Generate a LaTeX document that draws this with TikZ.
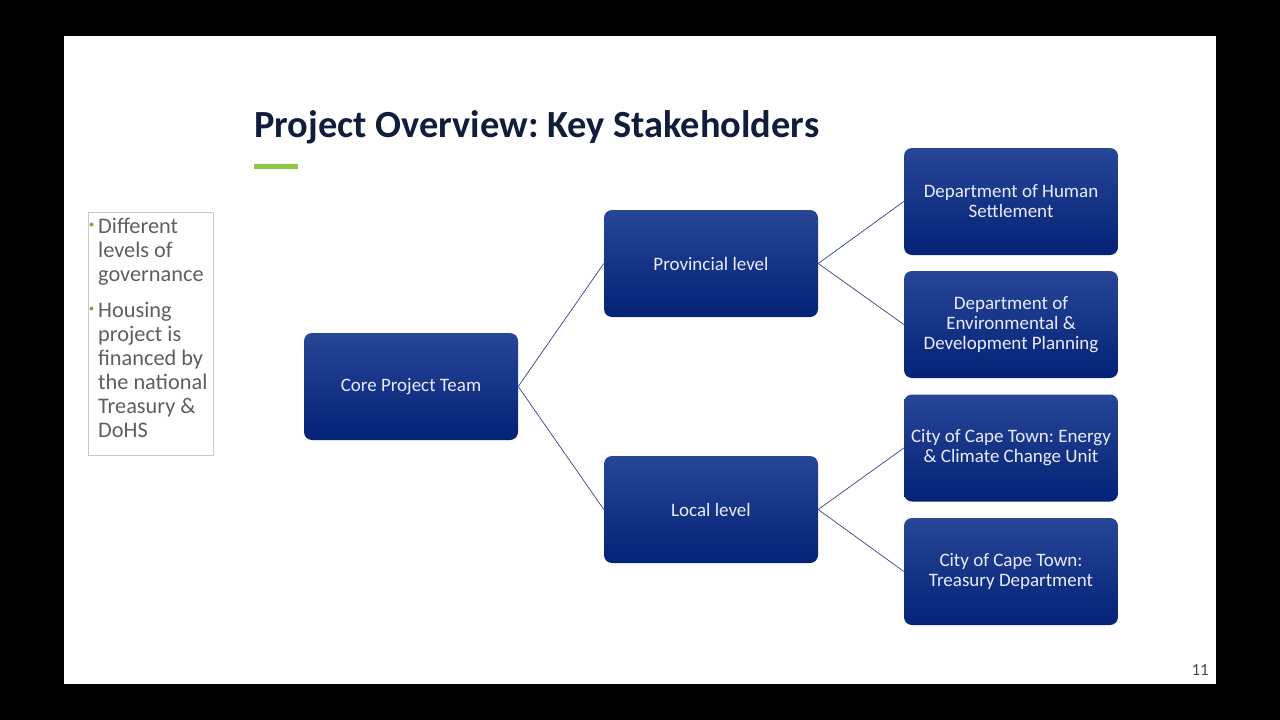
\documentclass[tikz,border=0pt]{standalone}
\usepackage{fontspec}
\setmainfont{Carlito}
\frenchspacing
\definecolor{navytop}{RGB}{40,70,150}
\definecolor{navybot}{RGB}{4,34,118}
\definecolor{navyline}{RGB}{50,70,130}
\definecolor{titlecol}{RGB}{16,30,60}
\definecolor{greenbar}{RGB}{141,198,63}
\definecolor{bullettext}{RGB}{95,95,95}
\definecolor{boxborder}{RGB}{200,200,200}
\begin{document}
\begin{tikzpicture}[x=1pt,y=-1pt,
  stake/.style={rectangle, rounded corners=8pt, minimum width=214pt, minimum height=107pt,
    top color=navytop, bottom color=navybot, draw=none, text=white!92!blue,
    font=\fontsize{19}{20}\selectfont, align=center, inner sep=4pt},
  link/.style={draw=navyline, line width=0.7pt},
  bline/.style={anchor=base west, inner sep=0, text=bullettext, font=\fontsize{22.3}{24}\selectfont}
]
\useasboundingbox (0,0) rectangle (1280,720);
\fill[black] (0,0) rectangle (1280,720);
\fill[white] (64,36) rectangle (1216,684);

% title
\node[anchor=base west, inner sep=0, text=titlecol, font=\fontsize{38.4}{42}\selectfont\bfseries] (title) at (254,137) {Project Overview: Key Stakeholders};
\fill[greenbar] (254,164) rectangle (298,169);

% left text box
\draw[boxborder, line width=0.8pt] (88,212) rectangle (213,455);
\node[bline] (l1) at (98,233) {Different};
\node[bline] (l2) at (98,257) {levels of};
\node[bline] (l3) at (98,281) {governance};
\node[bline] (l4) at (98,317) {Housing};
\node[bline] (l5) at (98,341) {project is};
\node[bline] (l6) at (98,365) {financed by};
\node[bline] (l7) at (98,389) {the national};
\node[bline] (l8) at (98,413) {Treasury \&};
\node[bline] (l9) at (98,437) {DoHS};
\fill[greenbar!85!black] (91.5,224.5) circle (2pt);
\fill[greenbar!85!black] (91.5,308.5) circle (2pt);

% nodes
\node[stake] (core) at (411,386.5) {Core Project Team};
\node[stake] (prov) at (711,263.5) {Provincial level};
\node[stake] (local) at (711,509.5) {Local level};
\node[stake] (dhs) at (1011,201.5) {Department of Human\\Settlement};
\node[stake] (dedp) at (1011,324.5) {Department of\\Environmental \&\\Development Planning};
\node[stake] (ecc) at (1011,448) {City of Cape Town: Energy\\\& Climate Change Unit};
\node[stake] (tre) at (1011,571.5) {City of Cape Town:\\Treasury Department};

% connectors
\draw[link] (core.east) -- (prov.west);
\draw[link] (core.east) -- (local.west);
\draw[link] (prov.east) -- (dhs.west);
\draw[link] (prov.east) -- (dedp.west);
\draw[link] (local.east) -- (ecc.west);
\draw[link] (local.east) -- (tre.west);

% page number
\node[anchor=base east, inner sep=0, text=titlecol!80, font=\fontsize{17}{18}\selectfont] (pg) at (1209,675) {11};
\end{tikzpicture}
\end{document}
